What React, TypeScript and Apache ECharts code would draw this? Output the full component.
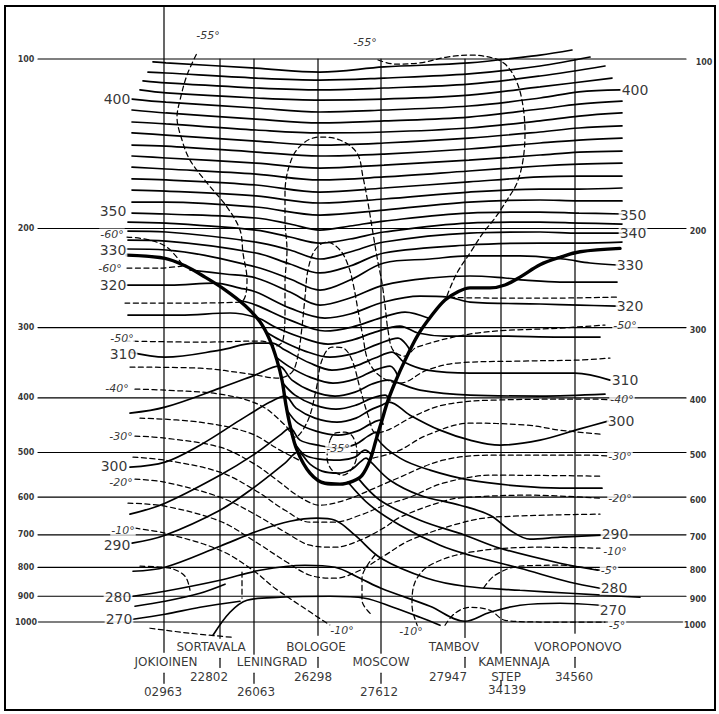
import React, { useEffect, useRef } from 'react';
import * as echarts from 'echarts';

const INK = '#000';
const FONT = 'DejaVu Sans';

// ---------- axis / frame values ----------
const pressureLevels = [100, 200, 300, 400, 500, 600, 700, 800, 900, 1000];
const levelLineFrom = 38;
const levelLineTo = 686;

// ---------- stations (distance along section, pressure extents) ----------
const stationNames = ['JOKIOINEN', 'SORTAVALA', 'LENINGRAD', 'BOLOGOE', 'MOSCOW', 'TAMBOV', 'KAMENNAJA', 'VOROPONOVO'];
const stationDist = [164, 220, 254, 318, 381, 465, 501, 575];
const stationTop = [81, 100, 100, 100, 100, 100, 100, 100];
const stationBottom = [1132, 1069, 1141, 1056, 1136, 1065, 1136, 1047];
const stationBars = [[1233, 1285], [1160, 1204], [1233, 1285], [1155, 1204], [1233, 1285], [1155, 1204], [1269, 1296], [1155, 1204]];
const stationNameLabels: [string, number, number][] = [
  ['JOKIOINEN', 166, 1179], ['SORTAVALA', 211, 1109], ['LENINGRAD', 272, 1179], ['BOLOGOE', 316, 1109],
  ['MOSCOW', 381, 1179], ['TAMBOV', 454, 1109], ['KAMENNAJA', 514, 1179], ['STEP', 506, 1254], ['VOROPONOVO', 578, 1109],
];
const stationNumberLabels: [string, number, number][] = [
  ['02963', 163, 1333], ['22802', 209, 1254], ['26063', 256, 1333], ['26298', 313, 1254],
  ['27612', 379, 1333], ['27947', 448, 1254], ['34139', 507, 1322], ['34560', 574, 1254],
];

// ---------- tropopause ----------
const tropopause = [[127,223],[165,226],[185,233],[205,244],[225,257],[245,274],[260,293],[270,316],[277,343],[282,372],[286,412],[290,447],[297,495],[310,544],[325,567],[340,569],[353,562],[362,549],[370,516],[376,475],[382,438],[388,404],[396,372],[405,343],[418,309],[432,285],[445,268],[458,259],[470,255],[490,255],[505,252],[520,244],[540,232],[560,225],[580,220],[620,217]];

// ---------- isentropes (K), [distance, hPa] ----------
const isen420 = [[153,101.2],[166,101.6],[256,103.8],[320,105.5],[384,103.3],[469,101.6],[540,98.4],[572,96.4]];
const isen415 = [[148,105.5],[166,105.9],[256,108.1],[320,109.0],[384,108.1],[469,106.3],[540,102.9],[590,99.2]];
const isen410 = [[143,109.4],[166,110.3],[256,112.6],[320,113.5],[384,112.6],[469,110.8],[540,107.2],[605,102.9]];
const isen405 = [[140,113.5],[166,114.9],[256,117.3],[320,118.3],[384,117.8],[469,115.9],[540,112.1],[612,108.1]];
const isen400 = [[132,117.8],[166,119.3],[256,122.2],[320,124.2],[384,123.2],[469,121.2],[540,117.3],[579,114.4],[620,113.5]];
const isen395 = [[132,123.2],[166,124.7],[256,127.9],[320,129.9],[384,128.8],[469,126.8],[540,122.7],[579,120.3],[622,118.8]];
const isen390 = [[132,129.4],[166,130.4],[256,133.7],[320,135.3],[384,134.8],[469,132.6],[540,128.8],[579,126.3],[622,124.7]];
const isen385 = [[132,135.3],[166,136.5],[256,139.9],[320,142.2],[384,141.0],[469,138.2],[540,134.8],[579,132.6],[622,131.5]];
const isen380 = [[132,142.2],[166,142.8],[256,146.3],[320,148.7],[384,147.5],[469,144.5],[540,141.0],[579,139.3],[622,138.2]];
const isen375 = [[132,148.7],[166,149.9],[256,153.1],[320,156.2],[384,154.3],[469,151.2],[540,148.1],[579,146.3],[622,145.7]];
const isen370 = [[132,155.6],[166,156.8],[256,160.1],[320,164.0],[384,162.0],[469,158.1],[540,154.9],[579,153.7],[622,153.1]];
const isen365 = [[132,163.3],[166,164.0],[256,167.4],[320,172.3],[384,169.5],[469,165.3],[540,162.0],[579,161.4],[622,161.4]];
const isen360 = [[132,170.9],[166,171.6],[256,175.1],[320,180.2],[384,177.3],[469,172.3],[540,170.2],[579,170.2],[622,169.5]];
const isen355 = [[132,179.5],[166,179.5],[256,183.2],[320,189.3],[384,185.5],[469,179.5],[540,178.0],[579,178.7],[622,178.7]];
const isen350 = [[132,187.8],[166,188.5],[256,191.6],[290,196.4],[320,201.3],[350,198.0],[384,194.0],[469,187.8],[540,187.0],[579,187.8],[622,188.5]];
const isen345 = [[128,194.8],[166,195.6],[256,201.3],[290,207.1],[320,212.3],[350,208.8],[384,202.9],[469,195.6],[540,194.8],[579,195.6],[622,196.4]];
const isen340 = [[128,202.1],[166,202.9],[256,211.4],[290,218.4],[320,226.6],[350,220.2],[384,211.4],[469,203.8],[540,202.9],[579,203.8],[622,203.8]];
const isen335 = [[128,209.7],[166,210.6],[256,221.1],[290,231.3],[320,239.9],[350,233.2],[384,221.1],[469,214.0],[540,212.3],[579,212.3],[622,211.4]];
const isen330 = [[127,217.5],[166,218.4],[256,234.1],[290,245.9],[320,257.3],[350,247.0],[384,230.3],[430,226.6],[469,223.8],[520,223.8],[563,226.6],[590,230.3],[617,232.2]];
const isen325 = [[190,237.0],[225,240.9],[256,244.9],[290,259.4],[320,273.6],[350,265.8],[384,252.1],[430,244.9],[470,242.9],[505,244.9],[525,247.0],[560,249.0],[617,249.0]];
const isen320 = [[127,252.1],[170,252.1],[215,250.0],[240,255.2],[256,259.4],[290,277.0],[325,288.5],[350,283.8],[384,270.2],[420,263.7],[448,264.8],[470,270.2],[540,272.4],[579,273.6],[617,274.7]];
const isenU3 = [[238,268.0],[256,273.6],[290,290.9],[325,304.2],[352,299.3],[380,288.5],[405,281.5],[428,288.5]];
const isen315 = [[128,285.0],[180,285.0],[230,282.6],[258,288.5],[275,299.3],[300,311.8],[328,320.9],[352,315.7],[375,305.5],[400,298.1],[418,306.7],[445,310.6],[500,310.6],[560,311.8],[600,311.8]];
const isenU5 = [[266,305.5],[280,315.7],[305,330.2],[330,338.5],[355,332.9],[378,320.9],[398,313.1],[410,328.9]];
const isen310 = [[130,331.6],[165,338.5],[220,328.9],[255,319.6],[272,319.6],[285,328.9],[310,346.8],[332,356.9],[355,351.1],[375,339.8],[392,331.6],[404,345.4],[427,356.9],[470,361.3],[520,361.3],[575,361.3],[610,371.8]];
const isenU7 = [[276,338.5],[290,352.6],[310,367.3],[333,376.4],[355,370.3],[375,356.9],[390,351.1],[398,365.8]];
const isen305 = [[130,425.6],[165,415.3],[220,384.2],[255,364.3],[279,351.1],[292,371.8],[312,389.0],[335,397.0],[355,390.6],[372,377.9],[388,371.8],[396,374.9],[420,387.4],[470,395.4],[540,397.0],[605,393.8]];
const isenU9 = [[282,374.9],[295,395.4],[315,411.9],[336,418.7],[356,411.9],[372,400.3],[385,395.4],[390,403.5]];
const isen300 = [[130,530.8],[165,520.1],[200,485.2],[240,438.0],[270,406.8],[285,397.0],[296,417.0],[315,434.4],[337,441.6],[356,434.4],[370,420.4],[382,411.9],[389,406.8],[410,429.1],[440,456.3],[470,475.3],[500,485.2],[540,475.3],[579,454.4],[608,439.8]];
const isenU11 = [[287,420.4],[298,443.4],[316,458.2],[338,465.7],[357,458.2],[370,445.2],[380,438.0],[383,445.2]];
const isen295 = [[130,643.4],[165,615.1],[220,548.5],[253,505.4],[280,465.7],[290,452.5],[300,475.3],[318,485.2],[338,491.2],[356,483.1],[368,467.6],[376,460.0],[377,471.4],[400,511.6],[430,537.4],[470,559.9],[520,573.8],[560,578.5],[602,578.5]];
const isenU13 = [[294,479.2],[305,505.4],[320,513.7],[340,515.9],[355,509.5],[365,495.2],[372,505.4]];
const isen290 = [[132,724.5],[165,701.2],[220,633.0],[253,578.5],[285,522.2],[298,499.3],[310,524.4],[322,539.6],[338,544.0],[352,535.2],[360,520.1],[366,511.6],[370,518.0],[390,559.9],[420,595.3],[460,620.2],[490,646.1],[510,687.0],[530,712.8],[560,707.0],[602,701.2]];
const isenX1 = [[358,555.2],[380,607.6],[420,659.5],[465,701.2],[500,739.5],[560,786.3],[598,809.2]];
const isenX2 = [[348,564.5],[370,620.2],[400,673.1],[440,730.5],[470,761.0],[520,802.6],[570,849.9],[600,871.0]];
const isen285 = [[133,812.5],[165,799.3],[220,733.5],[260,687.0],[290,662.2],[317,654.0],[335,659.5],[355,701.2],[381,770.4],[427,836.1],[465,863.9],[520,878.2],[570,889.0],[640,903.8]];
const isen280 = [[133,900.1],[165,881.8],[220,843.0],[260,809.2],[305,792.8],[335,799.3],[360,836.1],[381,871.0],[430,937.6],[465,997.0],[490,960.9],[520,933.8],[560,926.2],[600,933.8]];
const isenGround = [[213,1055.8],[230,960.9],[247,914.9],[280,903.8],[330,900.1],[365,907.4],[393,941.5],[420,980.8],[440,1013.4]];
const isen270L = [[133,988.9],[165,968.8],[200,941.5],[240,918.6]];
const isen275L = [[135,937.6],[165,918.6],[200,889.0],[225,856.9]];

// ---------- isotherms (°C), [distance, hPa] ----------
const temp60a = [[127,207.1],[150,209.7],[168,216.6],[182,231.3]];
const temp60b = [[127,235.1],[160,235.1],[182,233.2]];
const temp55w = [[125,271.3],[185,271.3],[240,270.2],[247,247.0],[243,221.1],[240,201.3],[227,183.2],[207,166.0],[190,151.2],[182,139.3],[177,126.8],[180,118.3],[187,106.8],[197,97.6]];
const temp55e = [[378,100.4],[395,102.1],[420,101.6],[447,99.2],[470,98.4],[493,99.6],[505,102.1],[515,108.1],[522,118.3],[525,135.3],[523,151.2],[517,166.0],[507,178.0],[495,191.6],[483,203.8],[470,221.1],[457,239.9],[447,263.7],[500,265.8],[560,265.8],[617,264.8]];
const temp50 = [[125,316.9],[200,318.3],[262,316.9],[276,323.5],[283,315.7],[285,279.2],[285,250.0],[287,218.4],[285,193.2],[285,173.0],[292,149.9],[305,140.4],[320,137.6],[340,139.3],[357,146.9],[363,162.0],[368,180.2],[372,198.8],[377,224.7],[382,250.0],[385,273.6],[388,303.0],[393,328.9],[405,337.1],[417,324.8],[477,306.7],[560,300.6],[605,296.9]];
const temp45 = [[130,352.6],[200,354.1],[250,362.8],[278,368.8],[292,359.8],[298,335.7],[302,299.3],[305,264.8],[308,237.0],[315,218.4],[327,211.4],[340,218.4],[348,232.2],[353,250.0],[358,279.2],[363,311.8],[368,342.6],[380,365.8],[400,376.4],[427,356.9],[457,346.8],[520,344.0],[577,342.6],[610,339.8]];
const temp40 = [[135,385.8],[165,387.4],[220,393.8],[260,411.9],[285,447.0],[295,469.5],[308,438.0],[316,387.4],[322,342.6],[332,324.8],[343,326.1],[352,342.6],[360,384.2],[368,429.1],[376,461.9],[390,454.4],[412,432.6],[443,411.9],[493,403.5],[593,401.9],[612,403.5]];
const temp35loop = [[330,475.3],[335,461.9],[345,460.0],[353,469.5],[357,501.3],[353,530.8],[343,548.5],[332,537.4],[327,509.5],[330,475.3]];
const temp35w = [[140,434.4],[200,441.6],[250,461.9],[280,495.2],[303,520.1]];
const temp35e = [[373,511.6],[385,505.4],[400,495.2],[427,465.7],[470,443.4],[527,447.0],[560,456.3],[600,463.8]];
const temp30 = [[135,467.6],[165,471.4],[220,489.2],[253,522.2],[277,559.9],[300,600.2],[320,620.2],[345,607.6],[370,583.3],[393,559.9],[443,515.9],[493,505.4],[593,505.4],[610,507.5]];
const temp25 = [[133,509.5],[165,515.9],[220,541.8],[255,583.3],[285,633.0],[310,664.9],[335,664.9],[360,646.1],[385,620.2],[410,600.2],[443,566.8],[493,548.5],[600,550.7]];
const temp20 = [[135,557.6],[165,564.5],[220,600.2],[253,640.8],[287,695.5],[310,730.5],[335,736.5],[360,715.7],[385,678.6],[400,651.4],[447,607.6],[470,600.2],[527,595.3],[600,602.6]];
const temp15 = [[128,615.1],[165,622.7],[220,662.2],[253,715.7],[287,783.2],[310,825.9],[335,836.1],[360,809.2],[385,761.0],[410,715.7],[460,667.6],[493,651.4],[600,643.4]];
const temp10w = [[135,681.4],[165,695.5],[220,745.6],[253,809.2],[275,871.0],[300,933.8],[330,1013.4]];
const temp10e = [[418,1021.7],[412,933.8],[415,849.9],[430,792.8],[470,751.7],[540,736.5],[600,739.5]];
const temp5a = [[600,809.2],[560,792.8],[520,795.9],[495,825.9],[482,878.2]];
const temp5b = [[445,1013.4],[455,964.8],[470,941.5],[490,953.1],[505,992.9],[540,1000],[605,1000]];
const tempFrag1 = [[140,796.0],[170,802.6],[185,829.3],[190,878.2]];
const tempFrag2 = [[150,1025.9],[190,1047.1],[232,1064.5]];
const tempFrag3 = [[375,761.0],[362,836.1],[362,914.9],[372,972.8]];
const tempFrag4 = [[242,815.8],[242,907.4]];

// ---------- labels [text, distance, hPa] ----------
const isentropeLabels: [string, number, number][] = [
  ['400',117,117.8],['350',113,186.3],['330',113,218.4],['320',113,252.1],['310',123,334.3],['300',114,528.7],['290',117,730.5],['280',118,903.8],['270',119,988.9],
  ['400',635,113.5],['350',633,189.3],['340',633,203.8],['330',630,232.2],['320',630,274.7],['310',625,371.8],['300',621,439.8],['290',615,698.3],['280',614,871.0],['270',613,953.1],
];
const tempLabels: [string, number, number][] = [
  ['-55°',208,90.7],['-55°',365,93.3],['-60°',112,204.6],['-60°',110,235.1],['-50°',122,313.1],['-40°',117,384.2],['-30°',121,467.6],['-20°',121,564.5],['-10°',123,687.0],
  ['-35°',338,491.2],['-10°',342,1034.4],['-10°',411,1038.6],
  ['-50°',625,296.9],['-40°',622,401.9],['-30°',620,507.5],['-20°',620,602.6],['-10°',615,748.7],['-5°',609,809.2],['-5°',617,1013.4],
];
const leftLevelX = 26;
const rightLevelX = [704, 698, 698, 698, 698, 698, 698, 698, 698, 695];

const isentropeLines = [isen420, isen415, isen410, isen405, isen400, isen395, isen390, isen385, isen380, isen375, isen370, isen365, isen360, isen355, isen350, isen345, isen340, isen335, isen330, isen325, isen320, isenU3, isen315, isenU5, isen310, isenU7, isen305, isenU9, isen300, isenU11, isen295, isenU13, isen290, isenX1, isenX2, isen285, isen280, isenGround, isen270L, isen275L];
const isothermLines = [temp60a, temp60b, temp55w, temp55e, temp50, temp45, temp40, temp35loop, temp35w, temp35e, temp30, temp25, temp20, temp15, temp10w, temp10e, temp5a, temp5b, tempFrag1, tempFrag2, tempFrag3, tempFrag4];

function lineSeries(data: number[][], width: number, dashed: boolean, z: number, smooth: number | boolean = 0.35) {
  return {
    type: 'line', data, symbol: 'none', showSymbol: false, smooth, clip: false, silent: true, z,
    lineStyle: { color: INK, width, type: dashed ? [5, 3.5] : 'solid', cap: 'round' },
  };
}

function labelSeries(items: [string, number, number][], fontSize: number, opts: any = {}, z = 10) {
  return {
    type: 'scatter', symbolSize: 1, clip: false, silent: true, z,
    itemStyle: { color: 'rgba(0,0,0,0)' },
    data: items.map(d => ({ value: [d[1], d[2]], name: d[0] })),
    label: {
      show: true, position: 'inside', formatter: '{b}', color: INK, fontSize, fontFamily: FONT,
      ...opts,
    },
  };
}

export default function App() {
  const ref = useRef<HTMLDivElement>(null);
  useEffect(() => {
    const chart = echarts.init(ref.current!, null, { renderer: 'svg' });
    const series: any[] = [];
    pressureLevels.forEach(p => series.push(lineSeries([[levelLineFrom, p], [levelLineTo, p]], 1.2, false, 1, false)));
    stationDist.forEach((x, i) => {
      series.push(lineSeries([[x, stationTop[i]], [x, stationBottom[i]]], 1.2, false, 1, false));
      series.push(lineSeries([[x, stationBars[i][0]], [x, stationBars[i][1]]], 1.2, false, 1, false));
    });
    isothermLines.forEach(d => series.push(lineSeries(d, 1.25, true, 2)));
    isentropeLines.forEach(d => series.push(lineSeries(d, 1.7, false, 3)));
    series.push(lineSeries(tropopause, 3.4, false, 4));

    const leftLevels: [string, number, number][] = pressureLevels.map(p => [String(p), leftLevelX, p]);
    const rightLevels: [string, number, number][] = pressureLevels.map((p, i) => [String(p), rightLevelX[i], p]);
    series.push(labelSeries(leftLevels, 8, { fontWeight: 'bold', backgroundColor: '#fff', padding: [0, 1] }));
    series.push(labelSeries(rightLevels, 8, { fontWeight: 'bold', backgroundColor: '#fff', padding: [0, 1], offset: [0, 3] }));
    series.push(labelSeries(isentropeLabels, 14, { backgroundColor: '#fff', padding: [0, 1] }));
    series.push(labelSeries(tempLabels, 11, { fontStyle: 'italic', backgroundColor: '#fff', padding: [0, 1] }));
    series.push(labelSeries(stationNameLabels, 12));
    series.push(labelSeries(stationNumberLabels, 12));

    chart.setOption({
      animation: false,
      backgroundColor: '#fff',
      grid: { left: 0, right: 0, top: 59, bottom: 92 },
      xAxis: { type: 'value', min: 0, max: 719, show: false },
      yAxis: { type: 'log', logBase: 10, min: 100, max: 1000, inverse: true, show: false },
      graphic: [
        { type: 'rect', shape: { x: 5, y: 6, width: 710, height: 704 }, style: { fill: 'none', stroke: INK, lineWidth: 2 }, z: 20 },
      ],
      series,
    });
    return () => chart.dispose();
  }, []);
  return <div ref={ref} style={{ position: 'fixed', left: 0, top: 0, width: 719, height: 714, background: '#fff' }} />;
}
